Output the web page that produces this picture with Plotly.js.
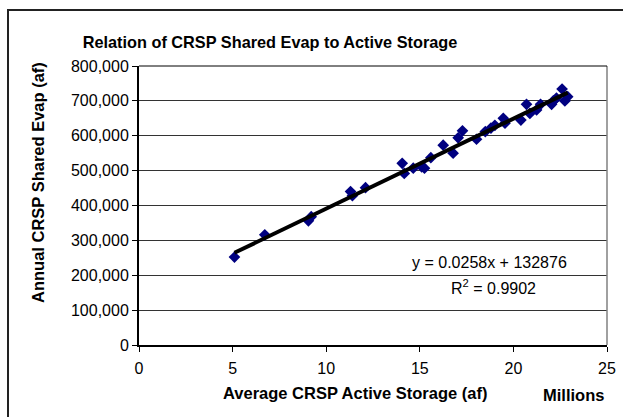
<!DOCTYPE html>
<html>
<head>
<meta charset="utf-8">
<script src="https://cdn.plot.ly/plotly-3.0.1.min.js"></script>
<style>
  html, body { margin: 0; padding: 0; background: #fff; overflow: hidden; }
  #chart { width: 623px; height: 417px; position: absolute; left: 0; top: 0; }
  #frame { position: absolute; left: 7px; top: 9px; width: 700px; height: 500px;
           border-left: 2px solid #222; border-top: 2px solid #222; pointer-events: none; }
</style>
</head>
<body>
<div id="chart"></div>
<div id="frame"></div>
<script>
// Average CRSP active storage (millions of af)
const storageMillions = [5.1, 6.72, 9.05, 9.2, 11.3, 11.4, 12.1, 14.06, 14.17, 14.65, 15.1, 15.25,
  15.59, 16.25, 16.78, 17.05, 17.28, 18.03, 18.5, 18.8, 19.01, 19.46, 19.55, 20.4, 20.7,
  20.88, 21.24, 21.45, 22.04, 22.13, 22.3, 22.6, 22.75, 22.9];
// Annual CRSP shared evaporation (af)
const sharedEvap = [252000, 316000, 356000, 368000, 440000, 428000, 451000, 521000, 492000, 507000, 511000, 507000,
  537000, 573000, 550000, 594000, 614000, 590000, 612000, 622000, 630000, 650000, 636000, 645000, 690000,
  664000, 674000, 690000, 690000, 700000, 708000, 734000, 700000, 712000];

const xTickVals = [0, 5, 10, 15, 20, 25];
const yTickVals = [0, 100000, 200000, 300000, 400000, 500000, 600000, 700000, 800000];

// Linear trendline as displayed: y = 0.0258x + 132876 (x in af)
const trendSlope = 0.0258;
const trendIntercept = 132876;
const trendX = [Math.min(...storageMillions), Math.max(...storageMillions)];
const trendY = trendX.map(v => trendSlope * v * 1e6 + trendIntercept);

const font = "Liberation Sans, Arial, sans-serif";
const L = 139, T = 66, W = 468, H = 279;
const px = v => (v - L) / W;
const py = v => (T + H - v) / H;

const traces = [
  {
    x: storageMillions, y: sharedEvap, type: 'scatter', mode: 'markers',
    marker: { symbol: 'diamond', size: 9, color: '#000080', line: { width: 0 } },
    hoverinfo: 'x+y', showlegend: false
  },
  {
    x: trendX, y: trendY, type: 'scatter', mode: 'lines',
    line: { color: '#000', width: 4 }, showlegend: false, hoverinfo: 'skip'
  }
];

const layout = {
  width: 623, height: 417,
  margin: { l: L, r: 623 - L - W, t: T, b: 417 - T - H, pad: 0 },
  paper_bgcolor: '#fff', plot_bgcolor: '#fff',
  font: { family: font, size: 16, color: '#000' },
  showlegend: false,
  xaxis: {
    range: [0, 25], tickvals: xTickVals, ticktext: xTickVals.map(String),
    showgrid: false, zeroline: false,
    showline: true, linecolor: '#000', linewidth: 2,
    ticks: 'outside', ticklen: 5, tickcolor: '#000', tickwidth: 1,
    ticklabelstandoff: 3,
    tickfont: { family: font, size: 16, color: '#000' },
    fixedrange: true
  },
  yaxis: {
    range: [0, 800000], tickvals: yTickVals,
    ticktext: yTickVals.map(v => v.toLocaleString('en-US')),
    showgrid: true, gridcolor: '#333', gridwidth: 1, zeroline: false,
    showline: true, linecolor: '#000', linewidth: 2,
    ticks: 'outside', ticklen: 5, tickcolor: '#000', tickwidth: 1,
    tickfont: { family: font, size: 16, color: '#000' },
    fixedrange: true
  },
  shapes: [
    { type: 'line', xref: 'paper', yref: 'paper', x0: 1, x1: 1, y0: 0, y1: 1,
      line: { color: '#808080', width: 1.5 } },
    { type: 'line', xref: 'paper', yref: 'paper', x0: 0, x1: 1, y0: 1, y1: 1,
      line: { color: '#000', width: 1 } }
  ],
  annotations: [
    { text: '<b>Annual CRSP Shared Evap (af)</b>', xref: 'paper', yref: 'paper',
      x: px(38), xanchor: 'center', y: py(183), yanchor: 'middle',
      textangle: -90, showarrow: false, font: { family: font, size: 16.5, color: '#000' } },
    { text: '<b>Average CRSP Active Storage (af)</b>', xref: 'paper', yref: 'paper',
      x: px(355), xanchor: 'center', y: py(393), yanchor: 'middle',
      showarrow: false, font: { family: font, size: 16.5, color: '#000' } },
    { text: '<b>Millions</b>', xref: 'paper', yref: 'paper',
      x: px(573), xanchor: 'center', y: py(395), yanchor: 'middle',
      showarrow: false, font: { family: font, size: 16.5, color: '#000' } },
    { text: 'y = 0.0258x + 132876', xref: 'paper', yref: 'paper',
      x: px(489), xanchor: 'center', y: py(262), yanchor: 'middle',
      showarrow: false, font: { family: font, size: 16, color: '#000' } },
    { text: 'R<sup>2</sup> = 0.9902', xref: 'paper', yref: 'paper',
      x: px(493), xanchor: 'center', y: py(287), yanchor: 'middle',
      showarrow: false, font: { family: font, size: 16, color: '#000' } }
  ],
  title: {
    text: '<b>Relation of CRSP Shared Evap to Active Storage</b>',
    x: px(270), xanchor: 'center', xref: 'paper',
    y: 1 - 42 / 417, yanchor: 'middle', yref: 'container',
    font: { family: font, size: 16.3, color: '#000' }
  }
};

Plotly.newPlot('chart', traces, layout, { displayModeBar: false, staticPlot: true });
</script>
</body>
</html>
